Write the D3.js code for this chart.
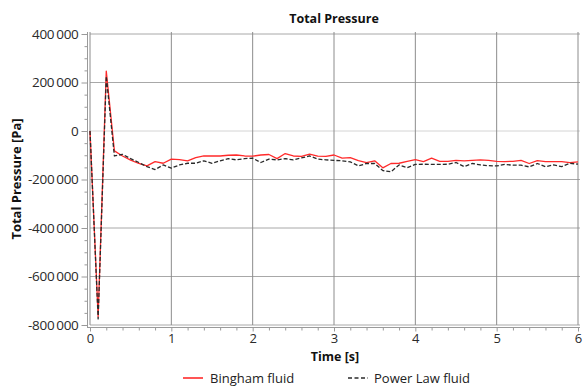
<!DOCTYPE html>
<html>
<head>
<meta charset="utf-8">
<script src="https://cdn.jsdelivr.net/npm/d3@7/dist/d3.min.js"></script>
<style>
  html, body { margin: 0; padding: 0; background: #fff; }
  svg { display: block; font-family: "Open Sans", "DejaVu Sans", sans-serif; }
</style>
</head>
<body>
<svg id="chart" width="583" height="387"></svg>
<script>
// Time samples (s), one every 0.1 s
const times = d3.range(0, 61).map(i => i / 10);

// Total pressure [Pa] for the Bingham fluid
const binghamPressure = [
  0, -765000, 247000, -82000, -103000, -120000, -134000, -144000, -126000, -133000,
  -116000, -118000, -123000, -110000, -103000, -103000, -103000, -100000, -99000, -103000,
  -104000, -99000, -97000, -114000, -93000, -103000, -105000, -95000, -104000, -105000,
  -99000, -112000, -110000, -122000, -130000, -123000, -152000, -134000, -133000, -125000,
  -118000, -126000, -112000, -125000, -125000, -121000, -123000, -121000, -119000, -121000,
  -125000, -126000, -125000, -121000, -134000, -122000, -126000, -126000, -126000, -130000,
  -127000
];

// Total pressure [Pa] for the power-law fluid
const powerLawPressure = [
  0, -775000, 226000, -103000, -96000, -114000, -130000, -147000, -159000, -140000,
  -153000, -140000, -133000, -133000, -123000, -133000, -123000, -114000, -119000, -114000,
  -112000, -130000, -116000, -119000, -114000, -119000, -111000, -103000, -116000, -119000,
  -121000, -123000, -127000, -144000, -134000, -134000, -163000, -168000, -140000, -151000,
  -138000, -137000, -138000, -138000, -137000, -130000, -147000, -134000, -140000, -143000,
  -144000, -138000, -141000, -141000, -148000, -134000, -147000, -140000, -147000, -133000,
  -137000
];

const xTicks = [0, 1, 2, 3, 4, 5, 6];
const yTicks = [400000, 200000, 0, -200000, -400000, -600000, -800000];
const seriesNames = ["Bingham fluid", "Power Law fluid"];

const svg = d3.select("#chart");
const plotLeft = 90, plotRight = 578, plotTop = 34, plotBottom = 325;

const x = d3.scaleLinear().domain([0, 6]).range([plotLeft, plotRight]);
const y = d3.scaleLinear().domain([-800000, 400000]).range([plotBottom, plotTop]);

// thousands grouped with a thin space, e.g. "400 000"
const fmt = v => d3.format(",")(v).replace(/,/g, "\u2009").replace("\u2212", "-");

// grid
const grid = svg.append("g");
grid.selectAll("line.h").data(yTicks).join("line")
  .attr("x1", plotLeft).attr("x2", plotRight + 2)
  .attr("y1", d => y(d)).attr("y2", d => y(d))
  .attr("stroke", d => d === 0 ? "#d4d4d4" : "#a8a8a8").attr("stroke-width", 1);
grid.selectAll("line.v").data(xTicks).join("line")
  .attr("x1", d => x(d)).attr("x2", d => x(d))
  .attr("y1", plotTop - 2).attr("y2", plotBottom)
  .attr("stroke", "#8c8c8c").attr("stroke-width", 1);

// y axis with major and minor ticks
const yAxisX = plotLeft - 2.5;
const yAxis = svg.append("g").attr("transform", `translate(${yAxisX},0)`)
  .call(d3.axisLeft(y).tickValues(yTicks).tickSize(6).tickPadding(3).tickFormat(fmt));
yAxis.select(".domain").attr("stroke", "#9a9a9a").attr("d", `M0,${plotTop - 2}V${plotBottom + 3}`);
yAxis.selectAll(".tick line").attr("stroke", "#9a9a9a");
yAxis.selectAll(".tick text").attr("font-size", 13.5).attr("fill", "#2a2a2a")
  .attr("font-family", "'Open Sans', sans-serif").attr("letter-spacing", "-0.3");
svg.append("g").attr("transform", `translate(${yAxisX},0)`)
  .call(d3.axisLeft(y).tickValues(d3.range(-800000, 400001, 50000).filter(v => v % 200000 !== 0)).tickSize(3).tickFormat(""))
  .call(g => { g.select(".domain").remove(); g.selectAll("line").attr("stroke", "#9a9a9a"); });

// x axis with major and minor ticks
const xAxisY = plotBottom + 2.5;
const xAxis = svg.append("g").attr("transform", `translate(0,${xAxisY})`)
  .call(d3.axisBottom(x).tickValues(xTicks).tickSize(4).tickPadding(2).tickFormat(d3.format("d")));
xAxis.select(".domain").attr("stroke", "#9a9a9a").attr("d", `M${plotLeft - 2.5},0H${plotRight + 2}`);
xAxis.selectAll(".tick line").attr("stroke", "#9a9a9a");
xAxis.selectAll(".tick text").attr("font-size", 13).attr("fill", "#2a2a2a")
  .attr("font-family", "'Open Sans', sans-serif");
svg.append("g").attr("transform", `translate(0,${xAxisY})`)
  .call(d3.axisBottom(x).tickValues(d3.range(0, 31).map(i => i / 5).filter(v => Math.abs(v - Math.round(v)) > 1e-9)).tickSize(3).tickFormat(""))
  .call(g => { g.select(".domain").remove(); g.selectAll("line").attr("stroke", "#9a9a9a"); });

// series
const line = d3.line().x((d, i) => x(times[i])).y(d => y(d));
svg.append("path").datum(binghamPressure)
  .attr("d", line).attr("fill", "none").attr("stroke", "#ff2a2a").attr("stroke-width", 1.3)
  .attr("stroke-linejoin", "round");
svg.append("path").datum(powerLawPressure)
  .attr("d", line).attr("fill", "none").attr("stroke", "#2a2a2a").attr("stroke-width", 1.3)
  .attr("stroke-dasharray", "4,2").attr("stroke-linejoin", "round");

// titles
svg.append("text").attr("x", 334).attr("y", 23).attr("text-anchor", "middle")
  .attr("font-size", 12.5).attr("font-weight", "bold").attr("fill", "#111").text("Total Pressure");
svg.append("text").attr("x", 335).attr("y", 361).attr("text-anchor", "middle")
  .attr("font-size", 12.5).attr("font-weight", "bold").attr("fill", "#111").text("Time [s]");
svg.append("text").attr("transform", "translate(21,179) rotate(-90)").attr("text-anchor", "middle")
  .attr("font-size", 13).attr("font-weight", "bold").attr("fill", "#111").text("Total Pressure [Pa]");

// legend
const legend = svg.append("g");
legend.append("line").attr("x1", 183).attr("x2", 203).attr("y1", 378).attr("y2", 378)
  .attr("stroke", "#ff2a2a").attr("stroke-width", 1.6);
legend.append("text").attr("x", 210).attr("y", 383).attr("font-size", 13).attr("fill", "#222").text(seriesNames[0]);
legend.append("line").attr("x1", 348).attr("x2", 368).attr("y1", 378).attr("y2", 378)
  .attr("stroke", "#2a2a2a").attr("stroke-width", 1.6).attr("stroke-dasharray", "4,2.5");
legend.append("text").attr("x", 374).attr("y", 383).attr("font-size", 13).attr("fill", "#222").text(seriesNames[1]);
</script>
</body>
</html>
